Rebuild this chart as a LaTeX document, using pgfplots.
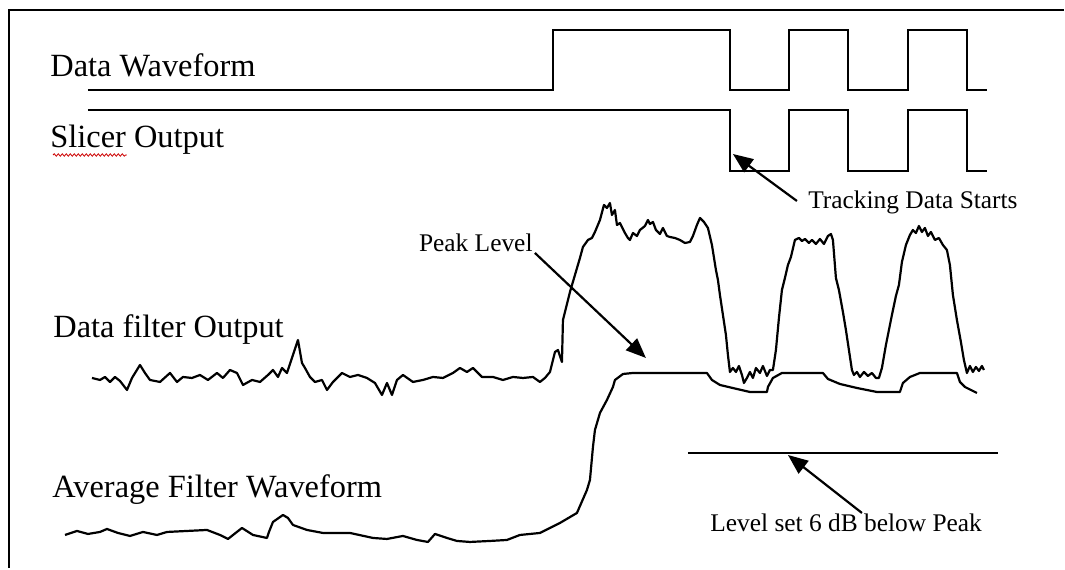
\documentclass[border=0pt]{standalone}
\usepackage{pgfplots}
\pgfplotsset{compat=1.18}
\usepackage{fontspec}
\setmainfont{Liberation Serif}
\usetikzlibrary{arrows.meta,decorations.pathmorphing}
\begin{document}
\begin{tikzpicture}
\begin{axis}[
  width=532.5pt, height=284.5pt, scale only axis,
  xmin=0, xmax=1065, ymin=0, ymax=569, y dir=reverse,
  hide axis, clip=false,
  cycle list={{black,solid,mark=none}},
]
% extent of the picture
\addplot[draw=none] coordinates {(0,0) (1065,569)};
% frame
\addplot[black, line width=1.1pt, line cap=butt] coordinates {(1064,10) (9,10) (9,568)};
% Data waveform
\addplot[black, line width=1.1pt] coordinates {(88,90) (553,90) (553,30) (730,30) (730,90) (789,90) (789,30) (848,30) (848,90) (908,90) (908,30) (967,30) (967,90) (987,90)};
% Slicer output
\addplot[black, line width=1.1pt] coordinates {(88,110) (730,110) (730,171) (789,171) (789,110) (848,110) (848,171) (908,171) (908,110) (967,110) (967,171) (987,171)};
% Data filter output
\addplot[black, line width=1.1pt, line join=round] coordinates {
(92,378) (100,380) (105,377) (110,382) (115,377) (120,381) (127,390) (132,378) (140,365) (145,373) (150,380) (160,382) (170,373) (177,382) (183,377) (192,378) (200,375) (208,380) (217,373) (223,378) (230,370) (237,373) (243,385) (252,380) (260,382) (268,375) (273,370) (278,377) (282,368) (287,373) (298,340) (302,363) (305,368) (310,377) (315,382) (322,380) (327,390) (333,382) (342,373) (350,377) (358,375) (367,378) (375,383) (382,395) (387,383) (392,395) (397,380) (403,375) (413,382) (423,380) (433,377) (443,378) (453,373) (460,368) (467,372) (473,368) (482,377) (493,377) (503,380) (513,377) (523,378) (533,377) (540,382)
(545,378) (550,372) (555,352) (558,350) (562,362) (563,320) (570,292) (575,275) (580,258) (583,247) (588,240) (592,238) (595,232) (600,220) (604,205) (607,208) (610,203) (612,215) (615,210) (617,225) (620,223) (625,233) (628,238) (630,240) (633,233) (637,236) (640,230) (645,226) (648,220) (650,224) (653,222) (656,230) (660,234) (663,228) (667,236) (670,237) (675,238) (680,240) (685,243) (690,242) (693,236) (697,225) (700,218) (704,222) (708,228) (712,245) (716,270) (718,280) (720,295) (723,315) (726,335) (728,355) (730,372) (733,368) (736,372) (739,366) (742,375) (744,383) (747,378) (750,372) (753,378) (756,368) (760,373) (763,366) (767,376) (770,370) (773,370) (776,350) (779,318) (782,290) (785,278) (788,265) (791,257) (795,240) (799,238) (802,241) (805,239) (809,243) (812,240) (816,244) (820,239) (824,244) (828,236) (831,234) (833,240) (836,278) (839,290) (843,312) (846,330) (849,350) (852,370) (854,375) (857,372) (860,377) (864,372) (868,376) (872,373) (876,378) (879,378) (882,368) (886,345) (889,330) (892,315) (896,296) (899,285) (902,262) (906,245) (910,235) (913,230) (916,233) (919,226) (922,232) (925,228) (928,236) (931,232) (935,240) (939,238) (943,245) (947,250) (950,265) (953,295) (957,320) (961,342) (964,360) (967,373) (970,366) (973,372) (976,367) (979,371) (982,366) (984,370)};
% Average filter waveform
\addplot[black, line width=1.1pt, line join=round] coordinates {
(65,535) (77,531) (88,534) (100,532) (107,529) (118,533) (130,536) (143,532) (157,535) (167,532) (187,531) (207,530) (220,535) (228,539) (242,528) (253,535) (267,538) (269,532) (273,522) (283,515) (288,518) (293,525) (307,530) (323,533) (350,533) (373,538) (387,539) (403,536) (417,540) (428,542) (435,534) (447,538) (457,541) (470,542) (490,541) (507,540) (520,535) (540,533) (560,523) (577,513) (587,490) (590,480) (593,447) (595,430) (600,413) (607,400) (613,387) (615,380) (623,374) (633,373) (707,373) (712,380) (720,385) (737,389) (750,392) (767,392) (768,387) (773,378) (782,373) (823,373) (828,379) (840,384) (857,388) (877,392) (900,392) (903,383) (910,377) (920,373) (957,373) (960,382) (965,387) (977,393)};
% Level set line
\addplot[black, line width=1.1pt] coordinates {(688,453) (998,453)};
% arrows
\addplot[black, line width=1.1pt, -{Triangle[length=10pt,width=8pt]}] coordinates {(797,201) (733,154)};
\addplot[black, line width=1.1pt, -{Triangle[length=10pt,width=8pt]}] coordinates {(535,253) (646,358)};
\addplot[black, line width=1.1pt, -{Triangle[length=10pt,width=8pt]}] coordinates {(862,513) (788,455)};
% spell-check squiggle
\draw[red!80!black, line width=0.4pt, decorate, decoration={snake, amplitude=0.6pt, segment length=2pt}] (axis cs:53,155) -- (axis cs:127,155);
% labels
\node[anchor=west, font=\fontsize{16.2}{18}\selectfont, inner sep=0pt] at (axis cs:50,65) {Data Waveform};
\node[anchor=west, font=\fontsize{16.2}{18}\selectfont, inner sep=0pt] at (axis cs:50,140) {Slicer Output};
\node[anchor=west, font=\fontsize{16.2}{18}\selectfont, inner sep=0pt] at (axis cs:53,330) {Data filter Output};
\node[anchor=west, font=\fontsize{16.2}{18}\selectfont, inner sep=0pt] at (axis cs:52,490) {Average Filter Waveform};
\node[anchor=west, font=\fontsize{12.7}{14}\selectfont, inner sep=0pt] at (axis cs:808,202) {Tracking Data Starts};
\node[anchor=east, font=\fontsize{12.7}{14}\selectfont, inner sep=0pt] at (axis cs:533,243) {Peak Level};
\node[anchor=west, font=\fontsize{12.7}{14}\selectfont, inner sep=0pt] at (axis cs:710,523) {Level set 6 dB below Peak};
\end{axis}
\end{tikzpicture}
\end{document}
